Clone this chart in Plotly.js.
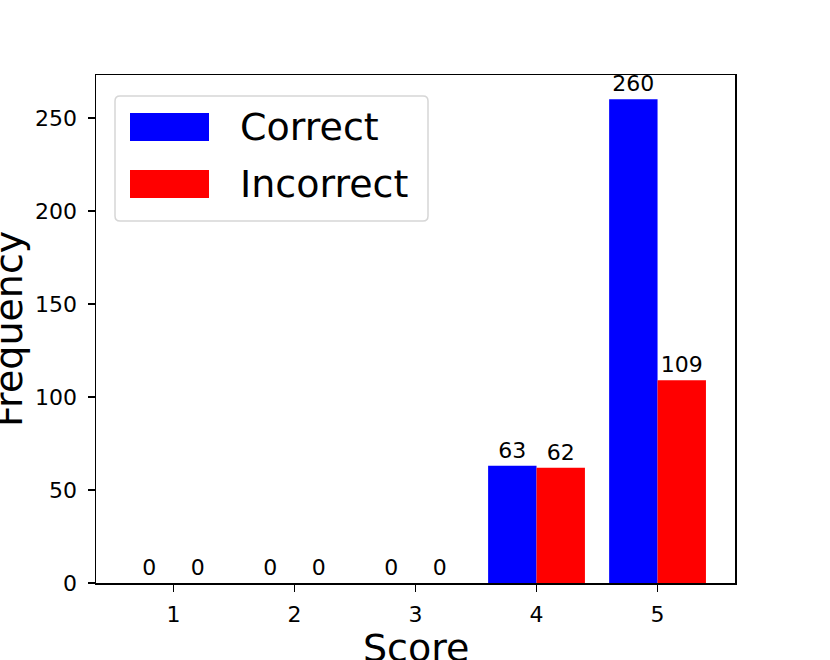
<!DOCTYPE html>
<html>
<head>
<meta charset="utf-8">
<script src="https://cdn.plot.ly/plotly-3.0.1.min.js"></script>
<style>html,body{margin:0;padding:0;background:#fff;}#chart{width:830px;height:660px;}</style>
</head>
<body>
<div id="chart"></div>
<script>
const scores = [1, 2, 3, 4, 5];
const correct = [0, 0, 0, 63, 260];
const incorrect = [0, 0, 0, 62, 109];
const seriesNames = ['Correct', 'Incorrect'];
const seriesColors = ['#0000ff', '#ff0000'];
const yTicks = [0, 50, 100, 150, 200, 250];
const xTitle = 'Score';
const yTitle = 'Frequency';

const FONT = 'DejaVu Sans, sans-serif';
const seriesValues = [correct, incorrect];

const traces = seriesValues.map((vals, i) => ({
  type: 'bar',
  x: scores,
  y: vals,
  name: seriesNames[i],
  marker: {color: seriesColors[i], line: {width: 0}},
  text: vals.map(String),
  textposition: 'outside',
  textfont: {family: FONT, size: 22, color: '#000'},
  constraintext: 'none',
  cliponaxis: false,
  showlegend: false,
  hoverinfo: 'x+y'
}));

// plot area in pixels: left 96, right 735, top 75, bottom 583
const W = 830, H = 660, L = 96, R = 95, T = 75, B = 77;
const pw = W - L - R, ph = H - T - B;
const px = v => (v - L) / pw;
const py = v => (H - B - v) / ph;

const shapes = [];
const annotations = [];

// legend box (rounded)
const bx0 = px(115), bx1 = px(428), by0 = py(221), by1 = py(96);
const rx = 5 / pw, ry = 5 / ph;
shapes.push({
  type: 'path', xref: 'paper', yref: 'paper',
  path: `M ${bx0 + rx},${by0} L ${bx1 - rx},${by0} Q ${bx1},${by0} ${bx1},${by0 + ry} L ${bx1},${by1 - ry} Q ${bx1},${by1} ${bx1 - rx},${by1} L ${bx0 + rx},${by1} Q ${bx0},${by1} ${bx0},${by1 - ry} L ${bx0},${by0 + ry} Q ${bx0},${by0} ${bx0 + rx},${by0} Z`,
  line: {color: '#d6d6d6', width: 1.5},
  fillcolor: 'rgba(255,255,255,0.8)',
  layer: 'above'
});
const rowCenters = [127, 184];
seriesNames.forEach((name, i) => {
  const cy = rowCenters[i];
  shapes.push({
    type: 'rect', xref: 'paper', yref: 'paper',
    x0: px(130), x1: px(209), y0: py(cy + 14), y1: py(cy - 14),
    fillcolor: seriesColors[i], line: {width: 0}, layer: 'above'
  });
  annotations.push({
    xref: 'paper', yref: 'paper', x: px(238), y: py(cy),
    xanchor: 'left', yanchor: 'middle', showarrow: false,
    text: name, font: {family: FONT, size: 38, color: '#000'}
  });
});

// axis titles
annotations.push({
  xref: 'paper', yref: 'paper', x: 0.5, y: 0, yanchor: 'top', yshift: -41,
  showarrow: false, text: xTitle, font: {family: FONT, size: 38, color: '#000'}
});
annotations.push({
  xref: 'paper', yref: 'paper', x: px(9), y: 0.5, xanchor: 'center', yanchor: 'middle',
  textangle: -90, showarrow: false, text: yTitle, font: {family: FONT, size: 38, color: '#000'}
});

const layout = {
  width: W, height: H,
  margin: {l: L, r: R, t: T, b: B, pad: 0},
  paper_bgcolor: '#fff', plot_bgcolor: '#fff',
  font: {family: FONT, size: 22, color: '#000'},
  barmode: 'group', bargap: 0.2, bargroupgap: 0,
  showlegend: false,
  xaxis: {
    range: [0.36, 5.64], tickmode: 'array', tickvals: scores, ticktext: scores.map(String),
    ticks: 'outside', ticklen: 7, tickwidth: 1.5, tickcolor: '#000',
    showline: true, linecolor: '#000', linewidth: 1.5, mirror: true,
    showgrid: false, zeroline: false, tickfont: {family: FONT, size: 22, color: '#000'},
    ticklabelstandoff: 4
  },
  yaxis: {
    range: [0, 273], tickmode: 'array', tickvals: yTicks, ticktext: yTicks.map(String),
    ticks: 'outside', ticklen: 7, tickwidth: 1.5, tickcolor: '#000',
    showline: true, linecolor: '#000', linewidth: 1.5, mirror: true,
    showgrid: false, zeroline: false, tickfont: {family: FONT, size: 22, color: '#000'},
    ticklabelstandoff: 6
  },
  shapes: shapes,
  annotations: annotations
};

Plotly.newPlot('chart', traces, layout, {staticPlot: true, displayModeBar: false});
</script>
</body>
</html>
